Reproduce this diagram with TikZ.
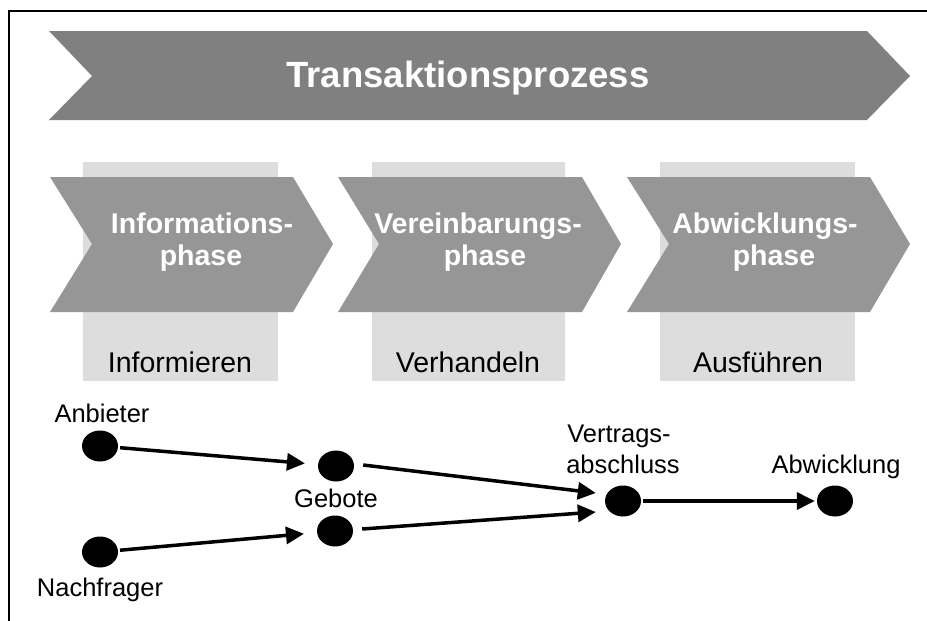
\documentclass[tikz,border=0pt]{standalone}
\usepackage{fontspec}
\setmainfont{Liberation Sans}
\usetikzlibrary{arrows.meta,shapes.geometric}

\definecolor{bandgray}{HTML}{808080}
\definecolor{phasegray}{HTML}{969696}
\definecolor{boxgray}{HTML}{DDDDDD}

\tikzset{
  band/.style={fill=bandgray, draw=none},
  phasechev/.style={fill=phasegray, draw=none},
  actbox/.style={fill=boxgray, draw=none},
  titletext/.style={anchor=base, text=white, inner sep=0pt,
    font=\bfseries\fontsize{36.5}{40}\selectfont},
  phasetext/.style={anchor=base, text=white, inner sep=0pt,
    font=\bfseries\fontsize{28.5}{32}\selectfont},
  acttext/.style={anchor=base, inner sep=0pt,
    font=\fontsize{28.5}{32}\selectfont},
  lbl/.style={anchor=base, inner sep=0pt,
    font=\fontsize{25.5}{29}\selectfont},
  dot/.style={ellipse, fill=black, draw=none, inner sep=0pt,
    minimum width=36pt, minimum height=31pt},
  arr/.style={line width=3.5pt, -{Triangle[length=18pt,width=17pt]}},
}

\begin{document}
\begin{tikzpicture}[x=1pt,y=-1pt]
\useasboundingbox (0,0) rectangle (927,621);

% frame
\draw[line width=1.5pt] (9,621) -- (9,11) -- (927,11);

% overall process band
\fill[band] (49,31) -- (867,31) -- (910,76) -- (867,120) -- (49,120) -- (92,76) -- cycle;
\node[titletext] (title) at (468,87) {Transaktionsprozess};

% activity boxes behind the phases
\fill[actbox] (83,162) rectangle (278,381);
\fill[actbox] (372,162) rectangle (565,381);
\fill[actbox] (660,162) rectangle (855,381);

% phase chevrons
\fill[phasechev] (50,177) -- (293,177) -- (333,244) -- (293,312) -- (50,312) -- (92,244) -- cycle;
\fill[phasechev] (338,177) -- (582,177) -- (621,244) -- (582,312) -- (338,312) -- (379,244) -- cycle;
\fill[phasechev] (627,177) -- (870,177) -- (910,244) -- (870,312) -- (627,312) -- (669,244) -- cycle;

\node[phasetext] (p1a) at (202,233) {Informations-};
\node[phasetext] (p1b) at (201,265) {phase};
\node[phasetext] (p2a) at (478,233) {Vereinbarungs-};
\node[phasetext] (p2b) at (485,265) {phase};
\node[phasetext] (p3a) at (765,233) {Abwicklungs-};
\node[phasetext] (p3b) at (774,265) {phase};

\node[acttext] (a1) at (180,372) {Informieren};
\node[acttext] (a2) at (468,372) {Verhandeln};
\node[acttext] (a3) at (758,372) {Ausführen};

% market flow
\node[dot] (anb) at (100,446) {};
\node[dot] (nach) at (100,552) {};
\node[dot] (geb1) at (336,466) {};
\node[dot] (geb2) at (335,531) {};
\node[dot] (vert) at (623,501) {};
\node[dot] (abw) at (835,501) {};

\node[lbl] (lanb) at (102,422) {Anbieter};
\node[lbl] (lnach) at (100,596) {Nachfrager};
\node[lbl] (lgeb) at (336,507) {Gebote};
\node[lbl] (lvert1) at (619,442) {Vertrags-};
\node[lbl] (lvert2) at (623,473) {abschluss};
\node[lbl] (labw) at (836,473) {Abwicklung};

\draw[arr, shorten <=2pt, shorten >=13pt] (anb) -- (geb1);
\draw[arr, shorten <=2pt, shorten >=13pt] (nach) -- (geb2);
\draw[arr] ([xshift=9pt,yshift=1pt]geb1.east) -- ([xshift=-9pt,yshift=8pt]vert.west);
\draw[arr] ([xshift=9pt,yshift=2pt]geb2.east) -- ([xshift=-9pt,yshift=-11pt]vert.west);
\draw[arr, shorten <=2pt, shorten >=2pt] (vert) -- (abw);
\end{tikzpicture}
\end{document}
